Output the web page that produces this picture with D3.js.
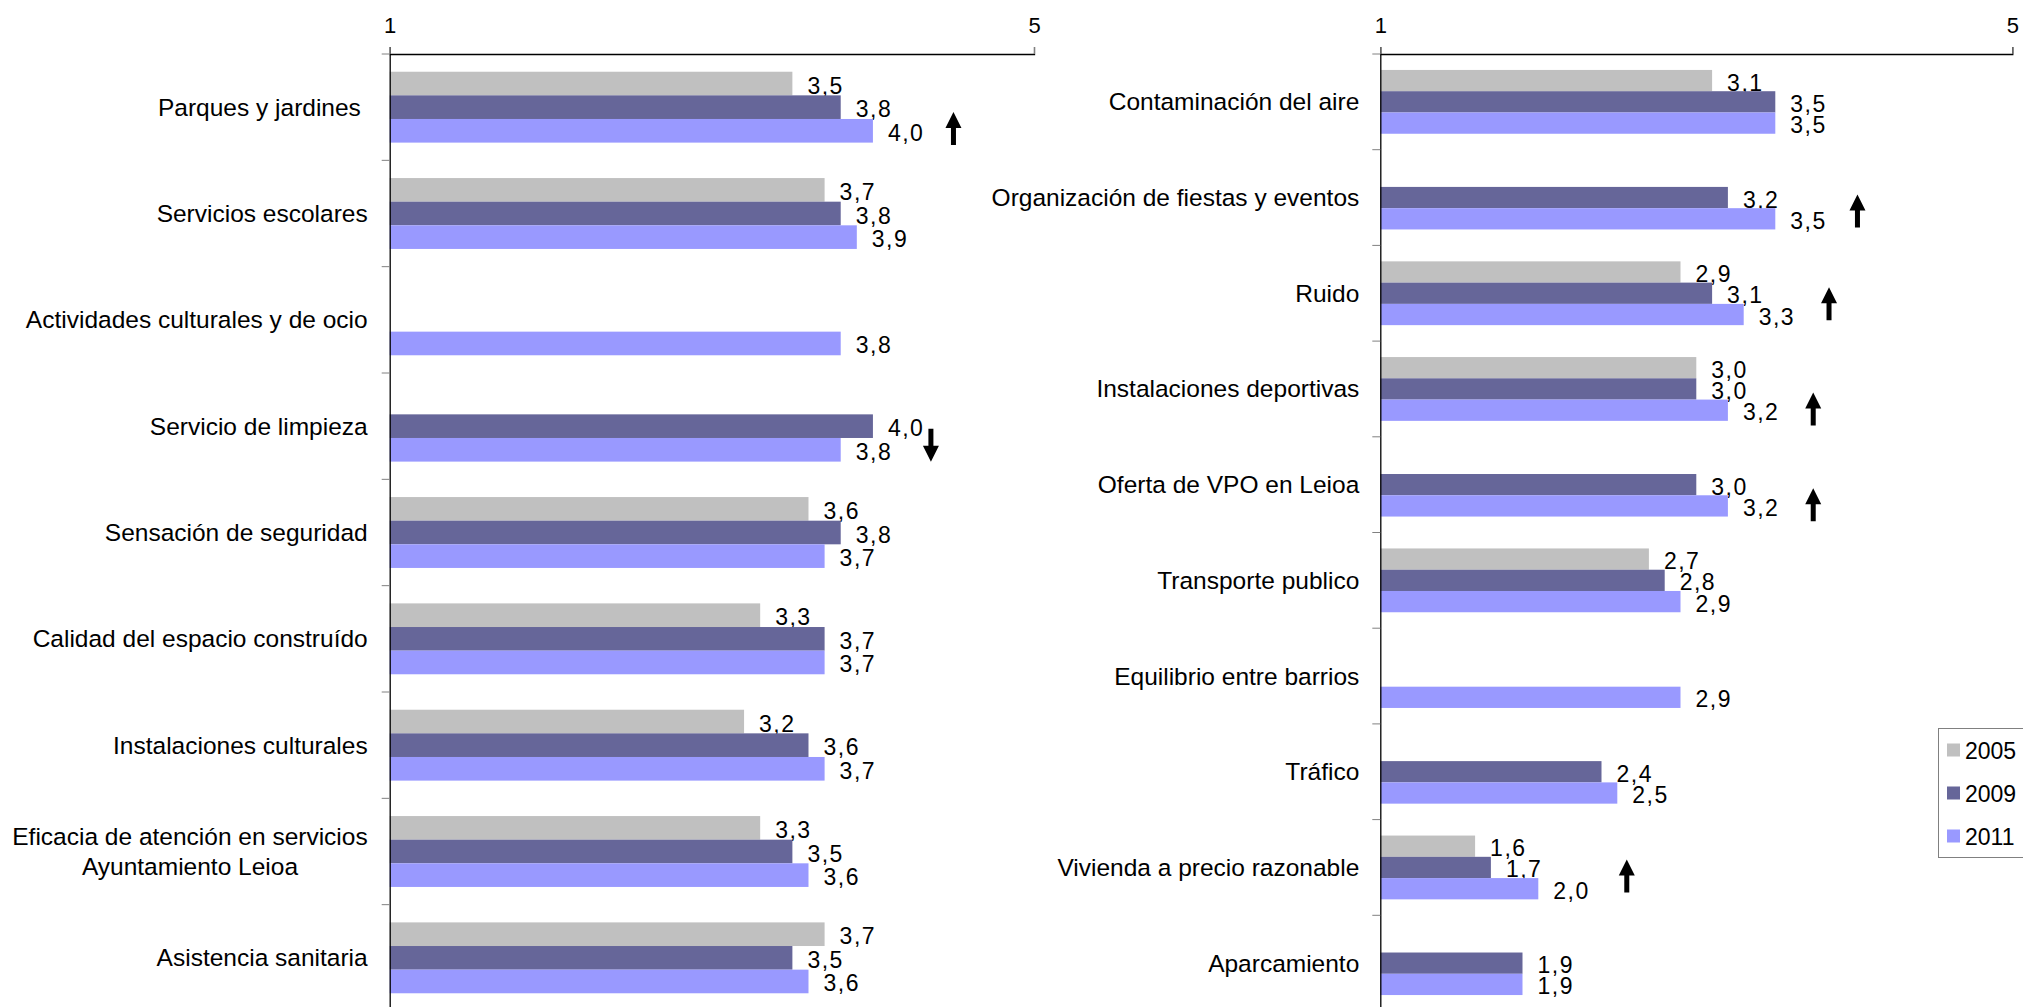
<!DOCTYPE html>
<html>
<head>
<meta charset="utf-8">
<script src="https://cdn.jsdelivr.net/npm/d3@7"></script>
<style>
  html, body { margin: 0; padding: 0; background: #fff; overflow: hidden; }
  svg { display: block; font-family: "Liberation Sans", Arial, sans-serif; }
  text { white-space: pre; }
</style>
</head>
<body>
<svg id="chart" width="2023" height="1007"></svg>
<script>
// ---------- DATA ----------
const years = ["2005", "2009", "2011"];
const yearColors = ["#C0C0C0", "#666699", "#9999FF"];
const axisTicks = [1, 5];

const leftCategories = [
  "Parques y jardines ",
  "Servicios escolares",
  "Actividades culturales y de ocio",
  "Servicio de limpieza",
  "Sensación de seguridad",
  "Calidad del espacio construído",
  "Instalaciones culturales",
  "Eficacia de atención en servicios|Ayuntamiento Leioa",
  "Asistencia sanitaria"
];
const left2005 = [3.5, 3.7, null, null, 3.6, 3.3, 3.2, 3.3, 3.7];
const left2009 = [3.8, 3.8, null, 4.0, 3.8, 3.7, 3.6, 3.5, 3.5];
const left2011 = [4.0, 3.9, 3.8, 3.8, 3.7, 3.7, 3.7, 3.6, 3.6];

const rightCategories = [
  "Contaminación del aire",
  "Organización de fiestas y eventos",
  "Ruido",
  "Instalaciones deportivas",
  "Oferta de VPO en Leioa",
  "Transporte publico",
  "Equilibrio entre barrios",
  "Tráfico",
  "Vivienda a precio razonable",
  "Aparcamiento"
];
const right2005 = [3.1, null, 2.9, 3.0, null, 2.7, null, null, 1.6, null];
const right2009 = [3.5, 3.2, 3.1, 3.0, 3.0, 2.8, null, 2.4, 1.7, 1.9];
const right2011 = [3.5, 3.5, 3.3, 3.2, 3.2, 2.9, 2.9, 2.5, 2.0, 1.9];

// trend arrows: category, direction, position on value axis, position within band (0-1)
const leftArrows = [
  { cat: "Parques y jardines ", dir: "up", at: 4.50, band: 0.70 },
  { cat: "Servicio de limpieza", dir: "down", at: 4.36, band: 0.68 }
];
const rightArrows = [
  { cat: "Organización de fiestas y eventos", dir: "up", at: 4.02, band: 0.64 },
  { cat: "Ruido", dir: "up", at: 3.84, band: 0.61 },
  { cat: "Instalaciones deportivas", dir: "up", at: 3.74, band: 0.71 },
  { cat: "Oferta de VPO en Leioa", dir: "up", at: 3.74, band: 0.71 },
  { cat: "Vivienda a precio razonable", dir: "up", at: 2.56, band: 0.59 }
];

// ---------- RENDER ----------
const svg = d3.select("#chart");
const locale = d3.formatLocale({ decimal: ",", thousands: ".", grouping: [3], currency: ["", "€"] });
const fmt = locale.format(".1f");

function drawPanel(cfg) {
  const { cats, series, x0, x1, yTop, yBot, labelGap, arrows } = cfg;
  const g = svg.append("g");
  const x = d3.scaleLinear().domain([1, 5]).range([x0, x1]);
  const y = d3.scaleBand().domain(cats).range([yTop, yBot]).padding(0);
  const sub = d3.scaleBand().domain(years).range([0, y.bandwidth()])
    .paddingInner(0).paddingOuter(0.75);

  // bars
  cats.forEach((c, i) => {
    years.forEach((yr, k) => {
      const v = series[k][i];
      if (v == null) return;
      const by = y(c) + sub(yr);
      g.append("rect")
        .attr("x", x(1))
        .attr("y", by)
        .attr("width", x(v) - x(1))
        .attr("height", sub.bandwidth())
        .attr("fill", yearColors[k]);
      g.append("text")
        .attr("x", x(v) + 15)
        .attr("y", by + sub.bandwidth() / 2 + 2)
        .attr("dominant-baseline", "central")
        .attr("font-size", 23)
        .attr("letter-spacing", 1.5)
        .attr("fill", "#000")
        .text(fmt(v));
    });
  });

  // value axis (top)
  const ax = d3.axisTop(x).tickValues(axisTicks).tickFormat(d3.format("d"))
    .tickSize(7).tickSizeOuter(7).tickPadding(14);
  const axG = g.append("g").attr("transform", `translate(0,${yTop})`).call(ax);
  axG.select(".domain").attr("stroke", "#000").attr("stroke-width", 1.3);
  axG.selectAll(".tick line").attr("stroke", "#808080");
  axG.selectAll(".tick text").attr("font-size", 22).attr("fill", "#000")
    .attr("font-family", "Liberation Sans, Arial, sans-serif");

  // category axis line
  const cy = d3.axisLeft(y).tickSize(0).tickSizeOuter(0).tickFormat("");
  const cyG = g.append("g").attr("transform", `translate(${x0},0)`).call(cy);
  cyG.select(".domain").attr("stroke", "#000").attr("stroke-width", 1.3);
  // boundary ticks
  const bounds = cats.map(c => y(c)).concat([yBot]);
  g.selectAll(null).data(bounds).enter().append("line")
    .attr("x1", x0 - 8).attr("x2", x0)
    .attr("y1", d => d).attr("y2", d => d)
    .attr("stroke", "#808080").attr("stroke-width", 1);

  // category labels
  const right = x0 - labelGap;
  cats.forEach(c => {
    const lines = c.split("|");
    const cyMid = y(c) + y.bandwidth() / 2;
    const t = g.append("text")
      .attr("font-size", 24.5)
      .attr("fill", "#000");
    if (lines.length === 1) {
      t.attr("x", right).attr("y", cyMid)
        .attr("text-anchor", "end")
        .attr("dominant-baseline", "central")
        .text(c);
    } else {
      const lh = 29.5;
      const tmp = lines.map(l => {
        const tt = g.append("text").attr("font-size", 24.5).text(l);
        const w = tt.node().getComputedTextLength();
        tt.remove();
        return w;
      });
      const maxW = d3.max(tmp);
      const cx = right - maxW / 2;
      t.attr("text-anchor", "middle");
      lines.forEach((l, j) => {
        t.append("tspan")
          .attr("x", cx)
          .attr("y", cyMid + (j - (lines.length - 1) / 2) * lh)
          .attr("dominant-baseline", "central")
          .text(l);
      });
    }
  });

  // arrows
  arrows.forEach(a => {
    const ax0 = x(a.at);
    const ay = y(a.cat) + a.band * y.bandwidth();
    const s = a.dir === "up" ? 1 : -1;
    const H = 16.5, hw = 8, sw = 2.5, hh = 16;
    const pts = [
      [0, -H], [hw, -H + hh], [sw, -H + hh], [sw, H], [-sw, H], [-sw, -H + hh], [-hw, -H + hh]
    ].map(p => [ax0 + p[0], ay + s * p[1]]);
    g.append("path")
      .attr("d", d3.line()(pts) + "Z")
      .attr("fill", "#000");
  });
}

drawPanel({
  cats: leftCategories,
  series: [left2005, left2009, left2011],
  x0: 389.7, x1: 1034, yTop: 54, yBot: 1011, labelGap: 22,
  arrows: leftArrows
});
drawPanel({
  cats: rightCategories,
  series: [right2005, right2009, right2011],
  x0: 1380.3, x1: 2012.3, yTop: 54, yBot: 1011, labelGap: 21,
  arrows: rightArrows
});

// legend
const lg = svg.append("g");
lg.append("rect")
  .attr("x", 1938.5).attr("y", 728.5)
  .attr("width", 120).attr("height", 129)
  .attr("fill", "#fff").attr("stroke", "#808080").attr("stroke-width", 1);
years.forEach((yr, k) => {
  const cyL = 750 + k * 43;
  lg.append("rect")
    .attr("x", 1947).attr("y", cyL - 6.5)
    .attr("width", 13).attr("height", 13)
    .attr("fill", yearColors[k]);
  lg.append("text")
    .attr("x", 1965).attr("y", cyL + 1)
    .attr("dominant-baseline", "central")
    .attr("font-size", 23).attr("fill", "#000")
    .text(yr);
});
</script>
</body>
</html>
